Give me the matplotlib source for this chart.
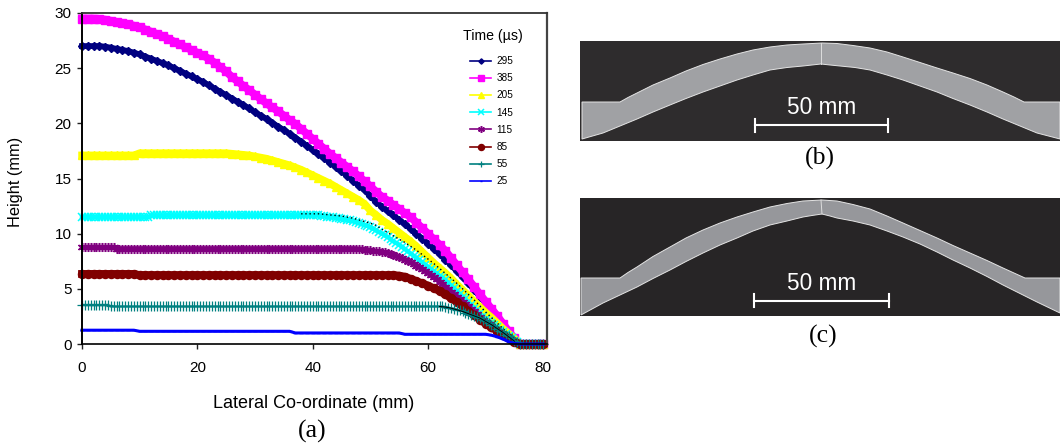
import matplotlib
matplotlib.use("Agg")
import matplotlib.pyplot as plt
import numpy as np

W, H = 1060, 447

x_coarse = np.arange(0, 81, 1.0)
x_fine = np.arange(0, 80.5, 0.5)

t295 = [27, 27, 27, 27, 26.95, 26.85, 26.75, 26.65, 26.55, 26.4,
        26.25, 26.05, 25.85, 25.65, 25.45, 25.25, 25.0, 24.75, 24.5, 24.25,
        24.0, 23.75, 23.45, 23.15, 22.85, 22.55, 22.25, 21.95, 21.65, 21.35,
        21.0, 20.7, 20.4, 20.05, 19.7, 19.4, 19.05, 18.7, 18.35, 17.95,
        17.6, 17.2, 16.85, 16.45, 16.05, 15.65, 15.25, 14.8, 14.35, 13.95,
        13.4, 12.9, 12.45, 12.05, 11.65, 11.25, 10.85, 10.45, 10.0, 9.55,
        9.1, 8.65, 8.15, 7.65, 7.15, 6.6, 6.05, 5.5, 4.9, 4.3,
        3.7, 3.1, 2.45, 1.75, 1.05, 0.4, 0, 0, 0, 0, 0]
t385 = [29.5, 29.5, 29.5, 29.45, 29.4, 29.3, 29.2, 29.1, 29.0, 28.85,
        28.7, 28.5, 28.3, 28.1, 27.9, 27.65, 27.4, 27.15, 26.9, 26.65,
        26.4, 26.15, 25.85, 25.5, 25.1, 24.7, 24.2, 23.8, 23.4, 23.0,
        22.6, 22.2, 21.8, 21.45, 21.1, 20.7, 20.3, 19.95, 19.5, 19.05,
        18.6, 18.15, 17.7, 17.25, 16.85, 16.45, 16.05, 15.65, 15.2, 14.75,
        14.3, 13.8, 13.35, 13.0, 12.6, 12.25, 11.85, 11.5, 11.0, 10.5,
        10.0, 9.5, 9.0, 8.45, 7.8, 7.15, 6.5, 5.85, 5.2, 4.5,
        3.85, 3.2, 2.55, 1.85, 1.15, 0.5, 0, 0, 0, 0, 0]
t205 = [17.1, 17.1, 17.1, 17.1, 17.1, 17.1, 17.1, 17.1, 17.1, 17.1,
        17.3, 17.3, 17.3, 17.3, 17.3, 17.3, 17.3, 17.3, 17.3, 17.3,
        17.3, 17.3, 17.3, 17.3, 17.3, 17.3, 17.25, 17.2, 17.15, 17.1,
        17.0, 16.9, 16.8, 16.65, 16.5, 16.35, 16.2, 16.0, 15.8, 15.55,
        15.3, 15.05, 14.8, 14.55, 14.25, 13.95, 13.65, 13.35, 13.05, 12.7,
        12.1, 11.7, 11.25, 10.9, 10.5, 10.1, 9.7, 9.3, 8.85, 8.35,
        7.85, 7.35, 6.9, 6.45, 5.95, 5.4, 4.9, 4.4, 3.85, 3.35,
        2.85, 2.4, 1.9, 1.4, 0.95, 0.5, 0, 0, 0, 0, 0]
t145 = [11.5, 11.5, 11.5, 11.5, 11.5, 11.5, 11.5, 11.5, 11.5, 11.5,
        11.5, 11.5, 11.5, 11.5, 11.5, 11.5, 11.5, 11.5, 11.5, 11.5,
        11.5, 11.5, 11.5, 11.5, 11.65, 11.65, 11.65, 11.65, 11.65, 11.65,
        11.65, 11.65, 11.65, 11.65, 11.65, 11.65, 11.65, 11.65, 11.65, 11.65,
        11.65, 11.65, 11.65, 11.65, 11.65, 11.65, 11.65, 11.65, 11.65, 11.65,
        11.65, 11.65, 11.65, 11.65, 11.65, 11.65, 11.65, 11.65, 11.65, 11.65,
        11.65, 11.65, 11.65, 11.65, 11.65, 11.65, 11.65, 11.65, 11.65, 11.65,
        11.65, 11.65, 11.65, 11.65, 11.65, 11.65, 11.65, 11.65, 11.65, 11.65,
        11.65, 11.65, 11.65, 11.6, 11.6, 11.55, 11.5, 11.5, 11.45, 11.4,
        11.35, 11.3, 11.25, 11.2, 11.15, 11.1, 11.0, 10.9, 10.8, 10.7,
        10.6, 10.45, 10.3, 10.15, 10.0, 9.85, 9.7, 9.5, 9.3, 9.15,
        9.0, 8.8, 8.6, 8.4, 8.2, 8.0, 7.8, 7.6, 7.4, 7.2,
        7.0, 6.8, 6.6, 6.4, 6.2, 6.0, 5.8, 5.55, 5.3, 5.05,
        4.8, 4.55, 4.3, 4.05, 3.8, 3.55, 3.3, 3.05, 2.8, 2.55,
        2.3, 2.1, 1.9, 1.7, 1.5, 1.3, 1.1, 0.9, 0.7, 0.5,
        0.3, 0.15, 0, 0, 0, 0, 0, 0, 0, 0, 0]
t115 = [8.75, 8.75, 8.75, 8.75, 8.75, 8.75, 8.75, 8.75, 8.75, 8.75,
        8.75, 8.75, 8.65, 8.65, 8.65, 8.65, 8.65, 8.65, 8.65, 8.65,
        8.65, 8.65, 8.65, 8.65, 8.65, 8.65, 8.65, 8.65, 8.65, 8.65,
        8.65, 8.65, 8.65, 8.65, 8.65, 8.65, 8.65, 8.65, 8.65, 8.65,
        8.65, 8.65, 8.65, 8.65, 8.65, 8.65, 8.65, 8.65, 8.65, 8.65,
        8.65, 8.65, 8.65, 8.65, 8.65, 8.65, 8.65, 8.65, 8.65, 8.65,
        8.65, 8.65, 8.65, 8.65, 8.65, 8.65, 8.65, 8.65, 8.65, 8.65,
        8.65, 8.65, 8.65, 8.65, 8.65, 8.65, 8.65, 8.65, 8.65, 8.65,
        8.65, 8.65, 8.65, 8.65, 8.65, 8.65, 8.65, 8.65, 8.65, 8.65,
        8.65, 8.65, 8.65, 8.65, 8.65, 8.65, 8.6, 8.6, 8.55, 8.5,
        8.5, 8.45, 8.4, 8.4, 8.35, 8.3, 8.25, 8.15, 8.05, 7.95,
        7.85, 7.75, 7.65, 7.5, 7.4, 7.25, 7.1, 6.95, 6.8, 6.6,
        6.45, 6.25, 6.05, 5.85, 5.65, 5.45, 5.2, 4.95, 4.75, 4.5,
        4.3, 4.1, 3.85, 3.6, 3.4, 3.15, 2.95, 2.7, 2.45, 2.2,
        2.0, 1.8, 1.6, 1.4, 1.2, 1.0, 0.85, 0.7, 0.55, 0.4,
        0.25, 0.1, 0, 0, 0, 0, 0, 0, 0, 0, 0]
t85 = [6.35, 6.35, 6.35, 6.35, 6.35, 6.35, 6.35, 6.35, 6.35, 6.35,
       6.25, 6.25, 6.25, 6.25, 6.25, 6.25, 6.25, 6.25, 6.25, 6.25,
       6.25, 6.25, 6.25, 6.25, 6.25, 6.25, 6.25, 6.25, 6.25, 6.25,
       6.25, 6.25, 6.25, 6.25, 6.25, 6.25, 6.25, 6.25, 6.25, 6.25,
       6.25, 6.25, 6.25, 6.25, 6.25, 6.25, 6.25, 6.25, 6.25, 6.25,
       6.25, 6.25, 6.25, 6.25, 6.25, 6.2, 6.1, 5.9, 5.7, 5.5,
       5.3, 5.05, 4.8, 4.5, 4.15, 3.8, 3.4, 3.0, 2.6, 2.2,
       1.85, 1.5, 1.2, 0.85, 0.5, 0.2, 0, 0, 0, 0, 0]
t55 = [3.55, 3.55, 3.55, 3.55, 3.55, 3.55, 3.55, 3.55, 3.55, 3.55,
       3.4, 3.4, 3.4, 3.4, 3.4, 3.4, 3.4, 3.4, 3.4, 3.4,
       3.4, 3.4, 3.4, 3.4, 3.4, 3.4, 3.4, 3.4, 3.4, 3.4,
       3.4, 3.4, 3.4, 3.4, 3.4, 3.4, 3.4, 3.4, 3.4, 3.4,
       3.4, 3.4, 3.4, 3.4, 3.4, 3.4, 3.4, 3.4, 3.4, 3.4,
       3.4, 3.4, 3.4, 3.4, 3.4, 3.4, 3.4, 3.4, 3.4, 3.4,
       3.4, 3.4, 3.4, 3.4, 3.4, 3.4, 3.4, 3.4, 3.4, 3.4,
       3.4, 3.4, 3.4, 3.4, 3.4, 3.4, 3.4, 3.4, 3.4, 3.4,
       3.4, 3.4, 3.4, 3.4, 3.4, 3.4, 3.4, 3.4, 3.4, 3.4,
       3.4, 3.4, 3.4, 3.4, 3.4, 3.4, 3.4, 3.4, 3.4, 3.4,
       3.4, 3.4, 3.4, 3.4, 3.4, 3.4, 3.4, 3.4, 3.4, 3.4,
       3.4, 3.4, 3.4, 3.4, 3.4, 3.4, 3.4, 3.4, 3.4, 3.4,
       3.4, 3.4, 3.4, 3.4, 3.4, 3.4, 3.35, 3.3, 3.25, 3.2,
       3.1, 3.05, 2.95, 2.85, 2.75, 2.65, 2.55, 2.45, 2.35, 2.2,
       2.05, 1.9, 1.75, 1.6, 1.4, 1.2, 1.05, 0.85, 0.7, 0.5,
       0.3, 0.15, 0, 0, 0, 0, 0, 0, 0, 0, 0]
t25 = [1.25, 1.25, 1.25, 1.25, 1.25, 1.25, 1.25, 1.25, 1.25, 1.25,
       1.15, 1.15, 1.15, 1.15, 1.15, 1.15, 1.15, 1.15, 1.15, 1.15,
       1.15, 1.15, 1.15, 1.15, 1.15, 1.15, 1.15, 1.15, 1.15, 1.15,
       1.15, 1.15, 1.15, 1.15, 1.15, 1.15, 1.15, 1.0, 1.0, 1.0,
       1.0, 1.0, 1.0, 1.0, 1.0, 1.0, 1.0, 1.0, 1.0, 1.0,
       1.0, 1.0, 1.0, 1.0, 1.0, 1.0, 0.88, 0.88, 0.88, 0.88,
       0.88, 0.88, 0.88, 0.88, 0.88, 0.88, 0.88, 0.88, 0.88, 0.88,
       0.88, 0.8, 0.65, 0.45, 0.2, 0.05, 0, 0, 0, 0, 0]

# thin black runs that sit on top of the 145 and 55 curves
dash1_x = np.arange(38, 76)
dash1_y = [11.8, 11.8, 11.8, 11.8, 11.75, 11.7, 11.65, 11.6, 11.5, 11.4,
           11.25, 11.1, 10.95, 10.75, 10.4, 10.1, 9.8, 9.5, 9.2, 8.85,
           8.5, 8.1, 7.7, 7.3, 6.85, 6.4, 5.95, 5.5, 5.0, 4.5,
           4.0, 3.45, 2.9, 2.4, 1.9, 1.4, 0.9, 0.4]
dash2_x = np.arange(62, 76)
dash2_y = [3.4, 3.35, 3.25, 3.1, 2.95, 2.75, 2.55, 2.35, 2.05, 1.75, 1.4, 1.05, 0.65, 0.25]

xticks = [0, 20, 40, 60, 80]
yticks = [0, 5, 10, 15, 20, 25, 30]

# outlines of the two section images, in image pixels
b_top_x = [582, 620, 628, 637, 653, 670, 686, 703, 720, 737, 753, 770, 787, 803, 822, 837, 853, 870, 887, 903, 920, 937, 953, 970, 987, 1003, 1014, 1024, 1060]
b_top_y = [102, 102, 97.5, 93, 85, 78, 71, 64.5, 59, 54, 50, 47, 45, 44, 43, 43.5, 45.5, 48, 52, 57, 62.5, 68, 73, 78.5, 85, 92, 97, 102, 102]
b_bot_x = [582, 603, 620, 637, 653, 670, 686, 703, 720, 737, 753, 770, 787, 803, 812, 821, 830, 840, 855, 870, 887, 903, 920, 937, 953, 970, 987, 1003, 1020, 1037, 1060]
b_bot_y = [139, 133, 126, 119, 112, 105, 98.5, 92, 86, 80, 75, 70, 67.5, 66, 65, 64, 65, 66, 67.5, 70, 75, 80, 86, 92, 98.5, 105, 112, 119, 126, 133, 139]
c_top_x = [581, 620, 628, 637, 653, 670, 686, 703, 720, 737, 753, 770, 787, 803, 822, 837, 853, 870, 887, 903, 920, 937, 953, 970, 987, 1003, 1014, 1025, 1060]
c_top_y = [278, 278, 272.5, 267, 256.5, 247, 238, 230, 223, 217, 212, 207, 203.5, 201, 200, 201, 204.5, 209, 216, 223, 230.5, 238, 245.5, 253, 260.5, 268, 273, 278, 278]
c_bot_x = [581, 603, 620, 637, 653, 670, 686, 703, 720, 737, 753, 770, 787, 803, 812, 822, 830, 837, 853, 870, 887, 903, 920, 937, 953, 970, 987, 1003, 1020, 1037, 1060]
c_bot_y = [315, 303, 295, 287, 278.5, 270, 261.5, 253, 245, 238, 231, 225, 221, 217, 215.5, 214, 216, 218, 221, 225, 231, 237, 244, 252, 260, 268, 276.5, 285, 293.5, 302, 313]

plt.rcParams["font.family"] = ["Liberation Sans", "DejaVu Sans"]
fig = plt.figure(figsize=(W / 100, H / 100), dpi=100)


def px_axes(left, top, right, bottom):
    return fig.add_axes([left / W, 1 - bottom / H, (right - left) / W, (bottom - top) / H])


ax = px_axes(82, 13, 546.5, 344)
ax.plot(x_coarse, t295, color="#000080", marker="D", ms=3.6, lw=4.2, clip_on=False, label="295")
ax.plot(x_coarse, t385, color="#ff00ff", marker="s", ms=5.8, lw=5.6, clip_on=False, label="385")
ax.plot(x_coarse, t205, color="#ffff00", marker="^", ms=6.2, lw=5.4, clip_on=False, label="205")
ax.plot(x_fine, t145, color="#00ffff", marker="x", ms=6, mew=1.1, lw=3.2, clip_on=False, label="145")
ax.plot(dash1_x, dash1_y, color="black", lw=1, ls=(0, (1, 2)), clip_on=False)
ax.plot(x_fine, t115, color="#800080", marker=(6, 2, 0), ms=6.5, mew=1.1, lw=3.4, clip_on=False, label="115")
ax.plot(x_coarse, t85, color="#800000", marker="o", ms=5.8, lw=5.6, clip_on=False, label="85")
ax.plot(x_fine, t55, color="#008080", marker="+", ms=6.5, mew=0.9, lw=1.5, clip_on=False, label="55")
ax.plot(dash2_x, dash2_y, color="black", lw=0.7, clip_on=False)
ax.plot(x_coarse, t25, color="#0000ff", marker="_", ms=2.5, lw=2.2, clip_on=False, label="25")

ax.set_xlim(0, 80.55)
ax.set_ylim(0, 30)
ax.set_xticks(xticks)
ax.set_yticks(yticks)
ax.tick_params(axis="both", labelsize=11, length=3.5, width=1, color="#222222")
ax.tick_params(axis="x", pad=8.5)
ax.tick_params(axis="y", pad=4)
ax.spines["left"].set_linewidth(1.4)
ax.spines["bottom"].set_linewidth(1.2)
ax.spines["top"].set_color("#333333")
ax.spines["top"].set_linewidth(1.3)
ax.spines["right"].set_color("#444444")
ax.spines["right"].set_linewidth(1.6)

leg = ax.legend(loc="upper left", bbox_to_anchor=(470 / W, 1 - 56 / H), bbox_transform=fig.transFigure,
                frameon=False, fontsize=7.2, numpoints=1, markerscale=0.75, labelspacing=0.72,
                handlelength=2.1, handletextpad=0.55, borderpad=0, borderaxespad=0)
for line in leg.get_lines():
    line.set_linewidth(1.2)
fig.text(493 / W, 1 - 36 / H, "Time (µs)", fontsize=10.2, ha="center", va="center")
fig.text(314 / W, 1 - 403 / H, "Lateral Co-ordinate (mm)", fontsize=13, ha="center", va="center")
fig.text(16 / W, 1 - 182 / H, "Height (mm)", fontsize=11.8, ha="center", va="center", rotation=90)


def section(top, bottom, bg, band, xt, yt, xb, yb, bar_y, bar_l, bar_r, text_y):
    a = px_axes(580, top, 1060, bottom)
    a.set_xlim(580, 1060)
    a.set_ylim(bottom, top)
    a.axis("off")
    a.add_patch(plt.Rectangle((580, top), 480, bottom - top, color=bg, lw=0))
    a.fill(xt + xb[::-1], yt + yb[::-1], facecolor=band, edgecolor="#e4e4e4", lw=0.7)
    a.plot([xt[14] - 1, xb[15]], [yt[14], yb[15]], color="#dddddd", lw=0.7)
    a.plot([bar_l, bar_r], [bar_y, bar_y], color="white", lw=1.5)
    a.plot([bar_l, bar_l], [bar_y - 6.5, bar_y + 6.5], color="white", lw=1.5)
    a.plot([bar_r, bar_r], [bar_y - 6.5, bar_y + 6.5], color="white", lw=1.5)
    a.text((bar_l + bar_r) / 2, text_y, "50 mm", color="white", fontsize=16.3, ha="center", va="center")


section(41, 141, "#2e2c2d", "#a0a1a4", b_top_x, b_top_y, b_bot_x, b_bot_y, 125, 755, 888, 108)
section(198, 316, "#272526", "#96979b", c_top_x, c_top_y, c_bot_x, c_bot_y, 300.5, 754, 889, 283)

fig.text(312 / W, 1 - 431 / H, "(a)", family="Liberation Serif", fontsize=18.5, ha="center", va="center")
fig.text(820 / W, 1 - 158 / H, "(b)", family="Liberation Serif", fontsize=18.5, ha="center", va="center")
fig.text(823 / W, 1 - 336 / H, "(c)", family="Liberation Serif", fontsize=18.5, ha="center", va="center")

plt.savefig("out.png", dpi=100)
